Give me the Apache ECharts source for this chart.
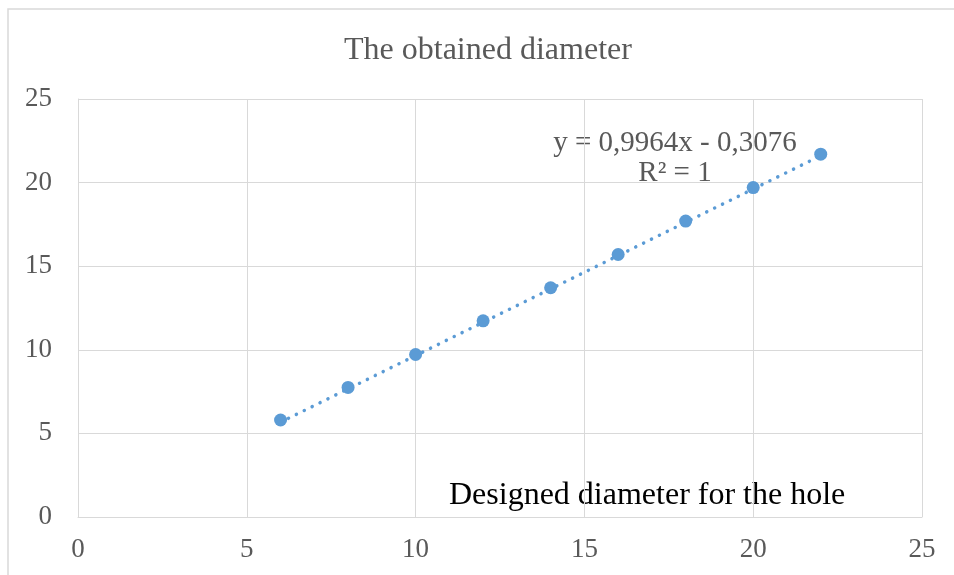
<!DOCTYPE html>
<html>
<head>
<meta charset="utf-8">
<script src="https://cdn.jsdelivr.net/npm/echarts@6/dist/echarts.min.js"></script>
<style>
    html, body { margin: 0; padding: 0; background: #fff; }
    #chart { width: 954px; height: 575px; }
</style>
</head>
<body>
<div id="chart"></div>
<script>
// designed diameter (x) vs obtained diameter (y)
const designed = [6, 8, 10, 12, 14, 16, 18, 20, 22];
const obtained = [5.8, 7.75, 9.72, 11.73, 13.71, 15.7, 17.7, 19.7, 21.7];

// linear trendline end points, from the equation shown on the chart
const trendX = [6, 22];
const trendY = [5.67, 21.61];

const equationText = 'y = 0,9964x - 0,3076';
const r2Text = 'R² = 1';

const serif = '"Liberation Serif", "DejaVu Serif", serif';
const grey = '#595959';
const gridColor = '#D9D9D9';
const blue = '#5B9BD5';

const chart = echarts.init(document.getElementById('chart'), null, { renderer: 'canvas' });

const axisCommon = {
    type: 'value',
    min: 0,
    max: 25,
    interval: 5,
    axisLine: { show: true, lineStyle: { color: gridColor, width: 1 } },
    axisTick: { show: false },
    splitLine: { show: true, lineStyle: { color: gridColor, width: 1 } },
    axisLabel: { color: grey, fontFamily: serif, fontSize: 27 }
};

chart.setOption({
    animation: false,
    title: {
        text: 'The obtained diameter',
        left: 339,
        top: 30,
        textStyle: { color: grey, fontFamily: serif, fontSize: 32, fontWeight: 'normal' }
    },
    grid: { left: 78, right: 32, top: 99, bottom: 58 },
    xAxis: {
        ...axisCommon,
        axisLabel: { ...axisCommon.axisLabel, margin: 19 }
    },
    yAxis: {
        ...axisCommon,
        axisLabel: { ...axisCommon.axisLabel, margin: 26 }
    },
    graphic: [
        {
            type: 'rect',
            shape: { x: 8, y: 9, width: 1000, height: 700 },
            style: { fill: 'none', stroke: gridColor, lineWidth: 1.5 },
            silent: true,
            z: -1
        },
        {
            type: 'text',
            x: 449,
            y: 480,
            style: { text: 'Designed diameter for the hole', fill: '#000', font: '32px ' + serif }
        },
        {
            type: 'text',
            x: 675,
            y: 129,
            style: { text: equationText, fill: grey, font: '29px ' + serif, align: 'center' }
        },
        {
            type: 'text',
            x: 675,
            y: 159,
            style: { text: r2Text, fill: grey, font: '29px ' + serif, align: 'center' }
        }
    ],
    series: [
        {
            name: 'trend',
            type: 'line',
            data: trendX.map((x, i) => [x, trendY[i]]),
            showSymbol: false,
            lineStyle: { color: blue, width: 3.5, type: [0.1, 8.7], cap: 'round' },
            z: 2
        },
        {
            name: 'obtained',
            type: 'scatter',
            data: designed.map((x, i) => [x, obtained[i]]),
            symbolSize: 13,
            itemStyle: { color: blue, opacity: 1 },
            z: 3
        }
    ]
});
</script>
</body>
</html>
